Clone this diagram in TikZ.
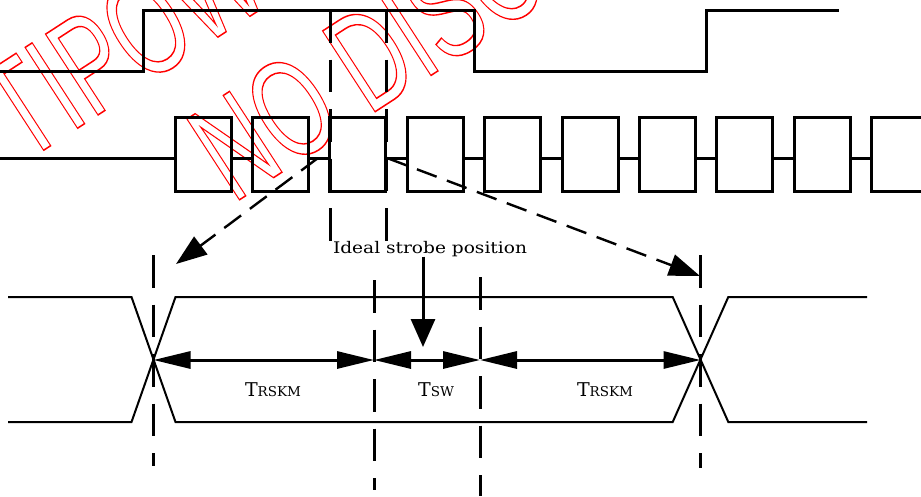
\documentclass[tikz,border=0pt]{standalone}
\usepackage{fontspec}
\setmainfont{DejaVu Serif}
\newfontfamily\wmfont{Liberation Sans}
\usetikzlibrary{arrows.meta}
\newcommand\olon{\special{pdf:literal direct 1 Tr 1.5 w}}
\newcommand\oloff{\special{pdf:literal direct 0 Tr}}
\newcommand\bigT{{\fontsize{19}{19}\selectfont T}}
\newcommand\subtxt[1]{{\fontsize{13.5}{13.5}\selectfont #1}}
\begin{document}
\begin{tikzpicture}[x=1pt,y=-1pt,
  sig/.style={line width=3pt, line join=miter},
  box/.style={draw, line width=3pt, minimum width=56pt, minimum height=74pt, inner sep=0pt},
  eye/.style={line width=2pt, line join=miter},
  vdash/.style={line width=3pt, dash pattern=on 32.5pt off 17pt},
  diag/.style={line width=2.4pt, dash pattern=on 21pt off 11pt, -{Triangle[length=31pt,width=22pt]}},
  dim/.style={line width=3pt, {Triangle[length=37pt,width=17pt]}-{Triangle[length=37pt,width=17pt]}},
  strobe/.style={line width=3pt, -{Triangle[length=28pt,width=24pt]}},
  wm/.style={red, inner sep=0pt, anchor=base west, rotate=33, font=\wmfont\fontsize{140}{140}\selectfont},
  lab/.style={inner sep=0pt, anchor=base}
]
\useasboundingbox (0,0) rectangle (921,496);

% watermark
\node[wm] (wm1) at (23.7,163.2) {\olon\scalebox{0.65}[1]{TIPOWER}\oloff};
\node[wm] (wm2) at (233,204) {\olon\scalebox{0.65}[1]{NO DISCLOSURE}\oloff};

% top waveform
\coordinate (s0) at (0,71);
\coordinate (s1) at (143,71);
\coordinate (s2) at (143,10);
\coordinate (s3) at (474,10);
\coordinate (s4) at (474,71);
\coordinate (s5) at (706,71);
\coordinate (s6) at (706,10);
\coordinate (s7) at (839,10);
\draw[sig] (s0) -- (s1) -- (s2) -- (s3) -- (s4) -- (s5) -- (s6) -- (s7);

% data boxes
\foreach \i in {0,...,9} \node[box] (b\i) at ({203+77.4*\i},154) {};
\coordinate (ly) at (0,158);
\draw[sig] (ly) -- (b0.west |- ly);
\foreach \i [count=\j] in {0,...,8} \draw[sig] (b\i.east |- ly) -- (b\j.west |- ly);

% dashed verticals (top)
\coordinate (ta0) at (330,10);
\coordinate (ta1) at (330,241);
\coordinate (tb0) at (386,10);
\coordinate (tb1) at (386,241);
\draw[vdash] (ta0) -- (ta1);
\draw[vdash] (tb0) -- (tb1);

% diagonal dashed arrows
\coordinate (dl0) at (318,158);
\coordinate (dl1) at (176,264);
\coordinate (dr0) at (387,158);
\coordinate (dr1) at (700,276);
\draw[diag] (dl0) -- (dl1);
\draw[diag] (dr0) -- (dr1);

% eye
\coordinate (e0t) at (8,297);
\coordinate (e0b) at (8,422);
\coordinate (e1t) at (131.5,297);
\coordinate (e1b) at (131.5,422);
\coordinate (e2t) at (175.5,297);
\coordinate (e2b) at (175.5,422);
\coordinate (e3t) at (672.7,297);
\coordinate (e3b) at (672.7,422);
\coordinate (e4t) at (728.3,297);
\coordinate (e4b) at (728.3,422);
\coordinate (e5t) at (867,297);
\coordinate (e5b) at (867,422);
\draw[eye] (e0t) -- (e1t) -- (e2b) -- (e3b) -- (e4t) -- (e5t);
\draw[eye] (e0b) -- (e1b) -- (e2t) -- (e3t) -- (e4b) -- (e5b);

% dashed verticals (bottom)
\coordinate (v1a) at (153.5,255);
\coordinate (v1b) at (153.5,466);
\coordinate (v2a) at (374,280);
\coordinate (v2b) at (374,490);
\coordinate (v3a) at (480,277);
\coordinate (v3b) at (480,496);
\coordinate (v4a) at (700.5,255);
\coordinate (v4b) at (700.5,468);
\draw[vdash] (v1a) -- (v1b);
\draw[vdash] (v2a) -- (v2b);
\draw[vdash] (v3a) -- (v3b);
\draw[vdash] (v4a) -- (v4b);

% dimension arrows
\coordinate (dL) at (153.5,360);
\coordinate (dA) at (374,360);
\coordinate (dB) at (480,360);
\coordinate (dR) at (700.5,360);
\draw[dim] (dL) -- (dA);
\draw[dim] (dA) -- (dB);
\draw[dim] (dB) -- (dR);

% labels
\node[lab] (ideal) at (430,253) {\fontsize{16}{16}\selectfont\resizebox{194pt}{\height}{Ideal strobe position}};
\coordinate (stip) at (423,347);
\draw[strobe] (ideal.south -| stip) -- (stip);

\node[lab] (t1) at (273,396) {\bigT\subtxt{RSKM}};
\node[lab] (t2) at (436,396) {\bigT\subtxt{SW}};
\node[lab] (t3) at (605,396) {\bigT\subtxt{RSKM}};
\end{tikzpicture}
\end{document}
